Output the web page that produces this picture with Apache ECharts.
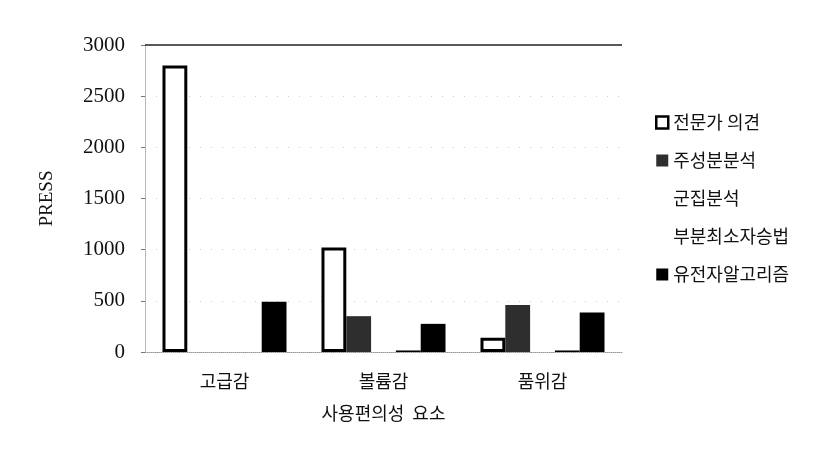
<!DOCTYPE html>
<html>
<head>
<meta charset="utf-8">
<script src="https://cdn.jsdelivr.net/npm/echarts@6/dist/echarts.min.js"></script>
<style>
  html, body { margin: 0; padding: 0; background: #fff; }
  #chart { width: 838px; height: 461px; }
</style>
</head>
<body>
<div id="chart"></div>
<script>
const categories = ['고급감', '볼륨감', '품위감']
const seriesNames = ['전문가 의견', '주성분분석', '군집분석', '부분최소자승법', '유전자알고리즘']
const expertValues = [2800, 1020, 140]
const pcaValues = [0, 350, 460]
const clusterValues = [0, 0, 0]
const plsValues = [0, 15, 15]
const gaValues = [490, 275, 385]
const yTicks = { min: 0, max: 3000, interval: 500 }

const krFont = '"Noto Sans CJK KR", sans-serif'
const numFont = '"Liberation Serif", "DejaVu Serif", serif'

const myChart = echarts.init(document.getElementById('chart'))

const barBase = {
  type: 'bar',
  barGap: '0%',
  barCategoryGap: '22%'
}

const option = {
  backgroundColor: '#fff',
  animation: false,
  grid: {
    left: 145,
    right: 216,
    top: 45,
    bottom: 109
  },
  legend: {
    orient: 'vertical',
    left: 650,
    top: 107,
    itemWidth: 12,
    itemHeight: 12,
    itemGap: 17,
    textStyle: {
      fontFamily: krFont,
      fontSize: 18,
      lineHeight: 21,
      color: '#111'
    },
    data: [
      { name: seriesNames[0], icon: 'rect', itemStyle: { color: '#fff', borderColor: '#000', borderWidth: 2.5 } },
      { name: seriesNames[1], icon: 'rect', itemStyle: { color: '#2e2e2e', borderWidth: 0 } },
      { name: seriesNames[2], icon: 'rect', itemStyle: { color: 'rgba(0,0,0,0)', borderWidth: 0 } },
      { name: seriesNames[3], icon: 'rect', itemStyle: { color: 'rgba(0,0,0,0)', borderWidth: 0 } },
      { name: seriesNames[4], icon: 'rect', itemStyle: { color: '#000', borderWidth: 0 } }
    ]
  },
  xAxis: {
    type: 'category',
    data: categories,
    name: '사용편의성  요소',
    nameLocation: 'middle',
    nameGap: 52,
    nameTextStyle: {
      fontFamily: krFont,
      fontSize: 18,
      color: '#111'
    },
    axisLine: {
      show: true,
      lineStyle: { color: '#999', type: 'dotted', width: 1 }
    },
    axisTick: { show: false },
    axisLabel: {
      margin: 20,
      fontFamily: krFont,
      fontSize: 18,
      color: '#111'
    }
  },
  yAxis: {
    type: 'value',
    min: yTicks.min,
    max: yTicks.max,
    interval: yTicks.interval,
    name: 'PRESS',
    nameLocation: 'middle',
    nameGap: 88,
    nameRotate: 90,
    nameTextStyle: {
      fontFamily: numFont,
      fontSize: 19,
      color: '#111'
    },
    axisLine: {
      show: true,
      lineStyle: { color: '#aaa', type: 'dotted', width: 1 }
    },
    axisTick: {
      show: true,
      length: 4,
      lineStyle: { color: '#777' }
    },
    axisLabel: {
      margin: 20,
      fontFamily: numFont,
      fontSize: 21,
      color: '#111',
      formatter: (v) => String(v)
    },
    splitLine: {
      show: true,
      lineStyle: { color: '#ccc', type: [1, 10], width: 1 }
    }
  },
  series: [
    {
      ...barBase,
      name: seriesNames[0],
      data: expertValues,
      itemStyle: { color: '#fff', borderColor: '#000', borderWidth: 3 },
      markLine: {
        silent: true,
        symbol: 'none',
        label: { show: false },
        lineStyle: { color: '#222', type: 'solid', width: 1.5 },
        data: [{ yAxis: yTicks.max }]
      }
    },
    {
      ...barBase,
      name: seriesNames[1],
      data: pcaValues,
      itemStyle: { color: '#2e2e2e' }
    },
    {
      ...barBase,
      name: seriesNames[2],
      data: clusterValues,
      itemStyle: { color: '#fff' }
    },
    {
      ...barBase,
      name: seriesNames[3],
      data: plsValues,
      itemStyle: { color: '#000' }
    },
    {
      ...barBase,
      name: seriesNames[4],
      data: gaValues,
      itemStyle: { color: '#000' }
    }
  ]
}

myChart.setOption(option)
</script>
</body>
</html>
